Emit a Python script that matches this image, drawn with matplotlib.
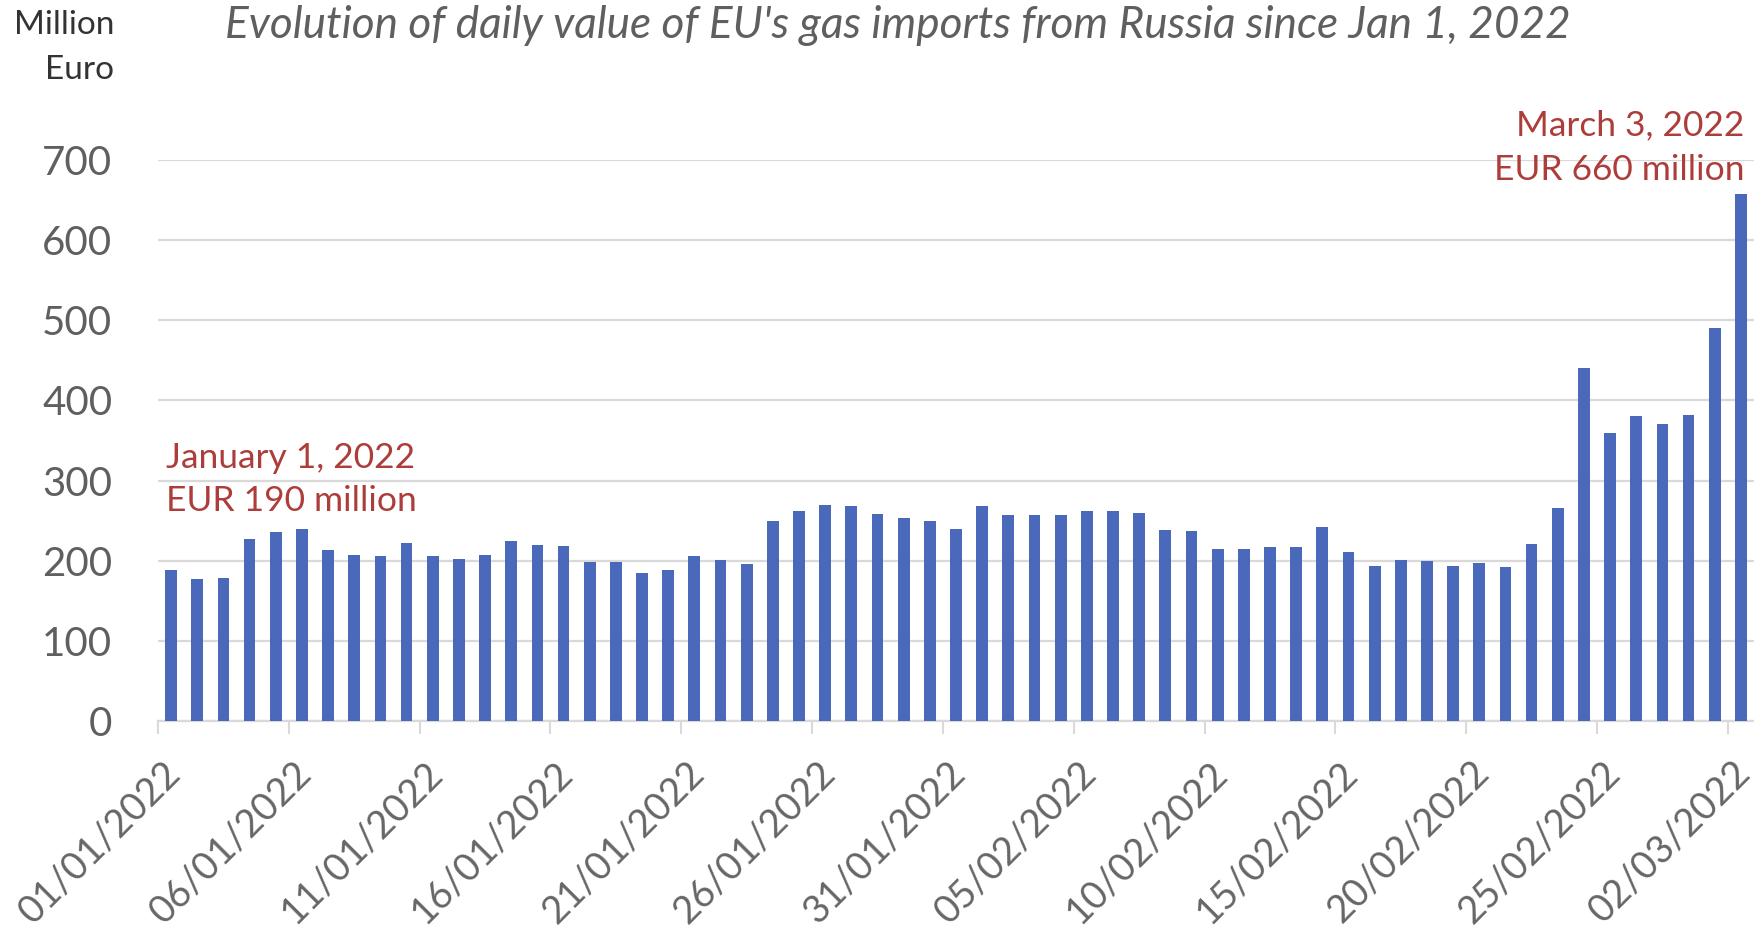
import pandas as pd
import matplotlib.pyplot as plt
import matplotlib.transforms as mtransforms
import numpy as np

# daily value of gas imports (million EUR)
start_date = '2022-01-01'
values = [188, 177, 178, 227, 236, 240, 214, 207, 206, 222,
          206, 202, 207, 225, 220, 219, 199, 199, 185, 188,
          206, 201, 196, 250, 262, 269, 268, 258, 253, 250,
          240, 268, 257, 257, 257, 262, 262, 259, 238, 237,
          215, 215, 217, 217, 242, 211, 193, 201, 200, 194,
          197, 192, 221, 266, 440, 359, 381, 371, 382, 490,
          658]
y_ticks = [0, 100, 200, 300, 400, 500, 600, 700]
first_note = ['January 1, 2022', 'EUR 190 million']
last_note = ['March 3, 2022', 'EUR 660 million']
title = "Evolution of daily value of EU's gas imports from Russia since Jan 1, 2022"

dates = pd.date_range(start_date, periods=len(values), freq='D')
tick_idx = np.arange(0, len(values), 5)
tick_labels = [dates[i].strftime('%d/%m/%Y') for i in tick_idx]

plt.rcParams['font.family'] = ['Lato', 'DejaVu Sans']

grey = '#5f5f5f'
light = '#d9d9d9'
red = '#ad3d3a'
blue = '#4b69ba'

fig = plt.figure(figsize=(17.54, 9.36), dpi=100)
ax = fig.add_axes([0.0901, 0.2297, 0.9099, 0.5993])

x = np.arange(len(values))
ax.bar(x, values, width=0.45, color=blue, zorder=3)

ax.set_xlim(-0.5, len(values) - 0.5)
ax.set_ylim(0, 700)

# grid and axis styling
ax.set_yticks(y_ticks)
ax.yaxis.grid(True, color=light, linewidth=1.6, zorder=0)
for s in ['top', 'right', 'left']:
    ax.spines[s].set_visible(False)
ax.spines['bottom'].set_color(light)
ax.spines['bottom'].set_linewidth(1.6)
ax.tick_params(axis='y', length=0, pad=33, labelsize=29, labelcolor=grey)

ax.set_xticks(tick_idx - 0.5)
ax.set_xticklabels(tick_labels, rotation=45, ha='right', va='top',
                   rotation_mode='anchor')
ax.tick_params(axis='x', length=9, width=1.5, color=light, pad=15,
               labelsize=27.5, labelcolor='#666666')
offset = mtransforms.ScaledTranslation(4 / 100, 0, fig.dpi_scale_trans)
for lab in ax.get_xticklabels():
    lab.set_transform(lab.get_transform() + offset)

# annotations
ax.text(-0.19, 328, first_note[0], color=red, fontsize=25.5, ha='left', va='center')
ax.text(-0.19, 274, first_note[1], color=red, fontsize=25.5, ha='left', va='center')
ax.text(60.14, 743, last_note[0], color=red, fontsize=25.5, ha='right', va='center', clip_on=False)
ax.text(60.14, 687, last_note[1], color=red, fontsize=25.5, ha='right', va='center', clip_on=False)

# titles
fig.text(0.128, 0.973, title, color=grey, fontsize=31.8, style='italic',
         ha='left', va='center')
fig.text(0.065, 0.973, 'Million', color='#333333', fontsize=24, ha='right', va='center')
fig.text(0.065, 0.925, 'Euro', color='#333333', fontsize=24, ha='right', va='center')

fig.savefig('out.png', dpi=100)
